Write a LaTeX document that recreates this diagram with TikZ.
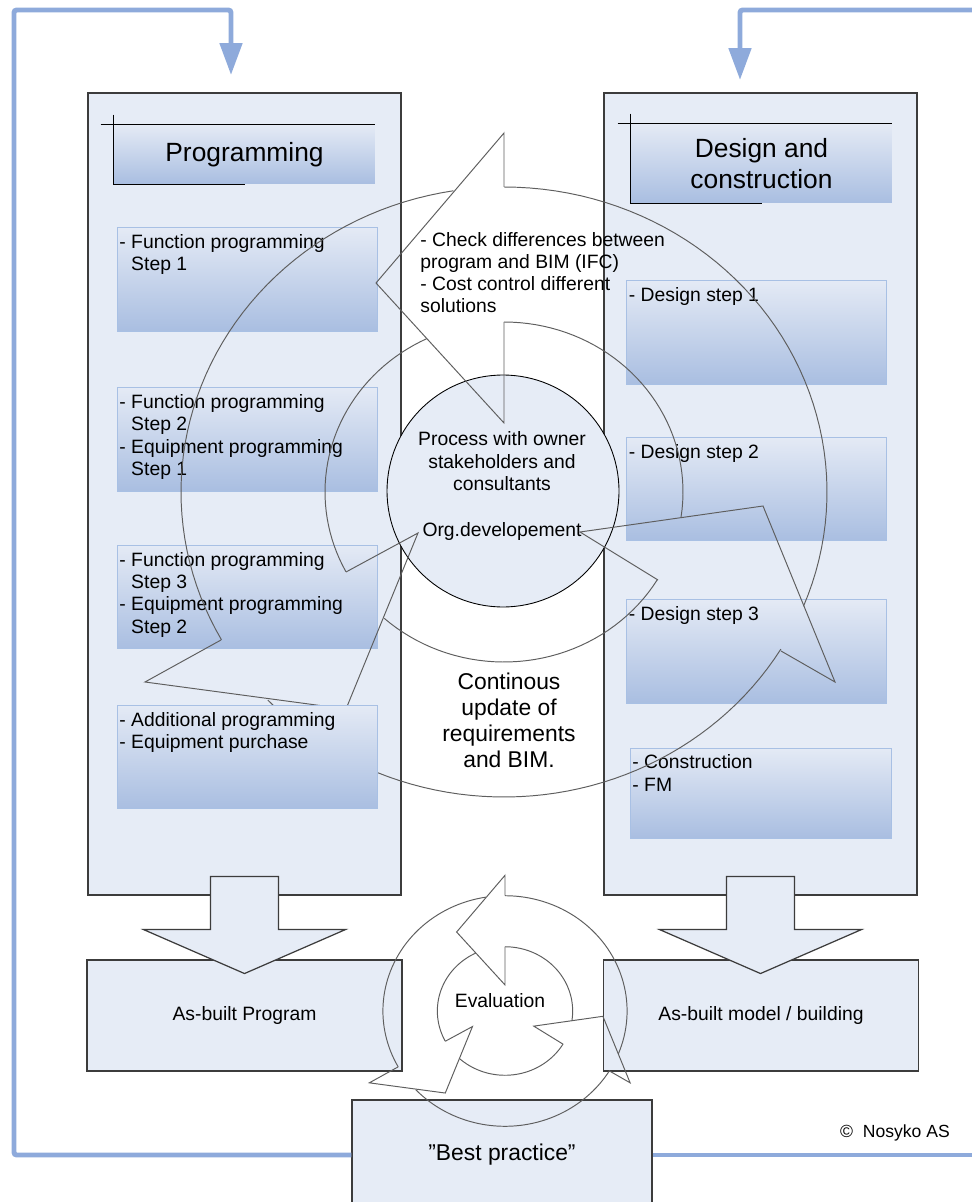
\documentclass[tikz,border=0pt]{standalone}
\usepackage{fontspec}
\setmainfont{Liberation Sans}
\usepackage{tikz}
\usetikzlibrary{positioning, arrows.meta, shapes}

\definecolor{panelfill}{HTML}{E6ECF6}
\definecolor{panelline}{HTML}{3C3C3C}
\definecolor{steptop}{HTML}{E4EAF5}
\definecolor{stepbottom}{HTML}{A9BEE1}
\definecolor{stepline}{HTML}{A8C0E4}
\definecolor{feedblue}{HTML}{8EAADB}
\definecolor{ringgray}{HTML}{5E5E5E}

\tikzstyle{panel} = [draw=panelline, line width=0.7pt, fill=panelfill, rectangle, minimum width=6.26cm, minimum height=16.04cm, inner sep=0pt]
\tikzstyle{titlebox} = [rectangle, top color=steptop, bottom color=stepbottom, minimum width=5.22cm, inner sep=0pt, align=center, font=\fontsize{15}{18}\selectfont]
\tikzstyle{titleline} = [draw=black, line width=0.6pt]
\tikzstyle{stepbox} = [draw=stepline, line width=0.5pt, rectangle, top color=steptop, bottom color=stepbottom, minimum width=5.2cm, minimum height=2.07cm, inner sep=0pt]
\tikzstyle{steptext} = [anchor=north west, align=left, inner xsep=0.05cm, inner ysep=0.14cm, font=\fontsize{11}{12.7}\selectfont]
\tikzstyle{outbox} = [draw=panelline, line width=0.7pt, fill=panelfill, rectangle, minimum width=6.3cm, minimum height=2.22cm, font=\fontsize{11}{13}\selectfont]
\tikzstyle{blockarrow} = [draw=panelline, line width=0.7pt, fill=panelfill]
\tikzstyle{feedline} = [draw=feedblue, line width=2.8pt, rounded corners=1.5pt]
\tikzstyle{feedback} = [feedline, -{Triangle[length=0.64cm, width=0.44cm]}]
\tikzstyle{ringline} = [draw=ringgray, line width=0.55pt]

% three curved arrows round a ring, drawn around (0,0)
\newcommand{\cyclering}{%
  \draw[ringline] plot[domain=99:209, samples=50] ({323*cos(\x)}, {-305*sin(\x)});
  \draw[ringline] plot[domain=-22:90, samples=50] ({323*cos(\x)}, {-305*sin(\x)});
  \draw[ringline] plot[domain=-137:-31, samples=50] ({323*cos(\x)}, {-305*sin(\x)});
  \draw[ringline] plot[domain=115.5:208, samples=40] ({179*cos(\x)}, {-170*sin(\x)});
  \draw[ringline] plot[domain=-8.5:90, samples=40] ({179*cos(\x)}, {-170*sin(\x)});
  \draw[ringline] plot[domain=-132:-31, samples=40] ({179*cos(\x)}, {-170*sin(\x)});
  \draw[ringline] (0,-305) -- (0,-359) -- (-128,-209) -- (0,-69) -- (0,-170);
  \draw[ringline] (154,88) -- (76,40) -- (259,14) -- (331,190) -- (277,159);
  \draw[ringline] (-283,148) -- (-359,190) -- (-158,217) -- (-86,41) -- (-158,80);
}

\begin{document}
\begin{tikzpicture}[x=0.02cm, y=-0.02cm]
  \useasboundingbox (0,0) rectangle (972,1202);
  \clip (0,0) rectangle (972,1202);
  \fill[white] (0,0) rectangle (972,1202);

  % columns
  \node[panel] (progpanel) at (244.5,494) {};
  \node[panel] (designpanel) at (760.5,494) {};

  \node[titlebox, minimum height=1.18cm] (progtitle) at (244.5,154.5) {Programming};
  \draw[titleline] ([xshift=-0.26cm]progtitle.north west) -- (progtitle.north east);
  \draw[titleline] ([yshift=0.2cm]progtitle.north west) -- (progtitle.south west) -- ++(131,0);

  \node[titlebox, minimum height=1.58cm] (designtitle) at (761.5,163.5) {Design and\\construction};
  \draw[titleline] ([xshift=-0.26cm]designtitle.north west) -- (designtitle.north east);
  \draw[titleline] ([yshift=0.2cm]designtitle.north west) -- (designtitle.south west) -- ++(131,0);

  % steps
  \node[stepbox] (prog1) at (247,279.5) {};
  \node[steptext] (prog1txt) at (prog1.north west) {- Function programming\\\hphantom{- }Step 1};
  \node[stepbox] (prog2) at (247,439.5) {};
  \node[steptext] (prog2txt) at (prog2.north west) {- Function programming\\\hphantom{- }Step 2\\- Equipment programming\\\hphantom{- }Step 1};
  \node[stepbox] (prog3) at (247,597) {};
  \node[steptext] (prog3txt) at (prog3.north west) {- Function programming\\\hphantom{- }Step 3\\- Equipment programming\\\hphantom{- }Step 2};

  \node[stepbox] (design1) at (756.5,332.5) {};
  \node[steptext] (design1txt) at (design1.north west) {- Design step 1};
  \node[stepbox] (design2) at (756.5,489) {};
  \node[steptext] (design2txt) at (design2.north west) {- Design step 2};
  \node[stepbox] (design3) at (756.5,651.5) {};
  \node[steptext] (design3txt) at (design3.north west) {- Design step 3};
  \node[stepbox, minimum width=5.22cm, minimum height=1.8cm] (constr) at (760.5,793) {};
  \node[steptext] (constrtxt) at (constr.north west) {- Construction\\- FM};

  % centre
  \node[circle, draw=black, line width=0.5pt, fill=panelfill, minimum size=4.64cm] (orgcircle) at (503,491) {};
  \node[align=center, font=\fontsize{11}{13}\selectfont] (orgtext) at (502,486) {Process with owner\\stakeholders and\\consultants\\[13pt]Org.developement};

  \begin{scope}[shift={(504,492)}]
    \cyclering
  \end{scope}

  \node[stepbox] (prog4) at (247,757) {};
  \node[steptext] (prog4txt) at (prog4.north west) {- Additional programming\\- Equipment purchase};

  \node[anchor=north west, inner sep=0pt, align=left, font=\fontsize{11}{12.5}\selectfont] (checktext) at (420,232) {- Check differences between\\program and BIM (IFC)\\- Cost control different\\solutions};
  \node[align=center, font=\fontsize{13}{14.8}\selectfont] (updatetext) at (509,720) {Continous\\update of\\requirements\\and BIM.};

  % as-built
  \node[outbox] (progout) at (244.5,1015.5) {As-built Program};
  \node[outbox] (designout) at (761,1015.5) {As-built model / building};
  \draw[blockarrow] (progpanel.south) ++(-34,-19) -- ++(68,0) -- ++(0,53) -- ++(67,0) -- ++(-101,44) -- ++(-101,-44) -- ++(67,0) -- cycle;
  \draw[blockarrow] (designpanel.south) ++(-34,-19) -- ++(68,0) -- ++(0,53) -- ++(67,0) -- ++(-101,44) -- ++(-101,-44) -- ++(67,0) -- cycle;

  \node[outbox, minimum width=6cm, minimum height=2.2cm, font=\fontsize{13}{15}\selectfont] (best) at (502,1155) {”Best practice”};

  % feedback
  \coordinate (lefttop) at (14,10);
  \coordinate (progin) at (231,75);
  \coordinate (rightout) at (985,1155);
  \coordinate (righttop) at (985,10);
  \coordinate (designin) at (740,80);
  \draw[feedback] (best.west) -| (lefttop) -| (progin);
  \draw[feedline] (best.east) -- (rightout);
  \draw[feedback] (righttop) -| (designin);

  \begin{scope}[shift={(505,1011)}, scale=0.378]
    \cyclering
  \end{scope}
  \node[font=\fontsize{11}{13}\selectfont] (evaltext) at (500,1001) {Evaluation};
  \node[anchor=east, font=\fontsize{10}{12}\selectfont] (copyright) at (956,1133) {©\ \ Nosyko AS};
\end{tikzpicture}
\end{document}
